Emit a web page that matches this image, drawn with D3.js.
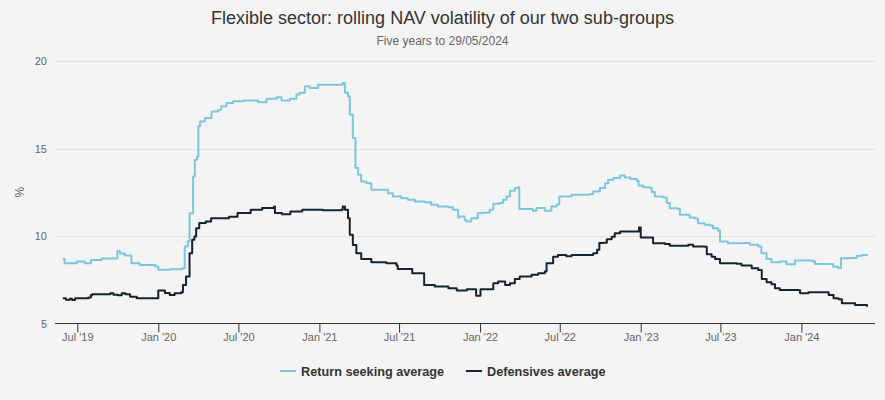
<!DOCTYPE html>
<html>
<head>
<meta charset="utf-8">
<script src="https://cdn.jsdelivr.net/npm/d3@7"></script>
<style>
  html, body { margin: 0; padding: 0; background: #f4f4f4; }
  svg { display: block; font-family: Arial, "Liberation Sans", Helvetica, sans-serif; }
</style>
</head>
<body>
<div id="chart"></div>
<script>
// ---------- DATA ----------
const chartTitle = "Flexible sector: rolling NAV volatility of our two sub-groups";
const chartSubtitle = "Five years to 29/05/2024";
const yAxisTitle = "%";
const yTicks = [5, 10, 15, 20];
const xTickDates = ["2019-07-01","2020-01-01","2020-07-01","2021-01-01","2021-07-01","2022-01-01","2022-07-01","2023-01-01","2023-07-01","2024-01-01"];
const seriesNames = ["Return seeking average", "Defensives average"];

const returnSeekingDates = [
 "2019-05-29","2019-06-02","2019-06-30","2019-07-18","2019-08-01","2019-08-25","2019-09-30","2019-10-06","2019-10-17","2019-11-01",
 "2019-11-20","2019-12-25","2020-01-01","2020-01-28","2020-02-25","2020-03-01","2020-03-08","2020-03-12","2020-03-20","2020-03-24",
 "2020-03-29","2020-04-01","2020-04-05","2020-04-16","2020-05-01","2020-05-16","2020-05-23","2020-06-04","2020-06-19","2020-07-12",
 "2020-08-10","2020-08-15","2020-09-03","2020-09-26","2020-10-07","2020-10-26","2020-11-10","2020-11-17","2020-11-29","2020-12-10",
 "2020-12-29","2021-02-20","2021-02-23","2021-02-28","2021-03-07","2021-03-11","2021-03-18","2021-03-24","2021-03-30","2021-04-06",
 "2021-04-18","2021-04-29","2021-05-18","2021-06-06","2021-06-17","2021-07-06","2021-07-21","2021-08-06","2021-08-28","2021-09-12",
 "2021-09-27","2021-10-20","2021-10-31","2021-11-12","2021-11-16","2021-11-27","2021-12-01","2021-12-12","2021-12-27","2022-01-12",
 "2022-01-23","2022-01-31","2022-02-15","2022-02-22","2022-03-02","2022-03-10","2022-03-21","2022-03-29","2022-03-31","2022-04-28",
 "2022-05-01","2022-05-09","2022-05-24","2022-05-28","2022-06-12","2022-06-24","2022-06-30","2022-07-28","2022-09-08","2022-09-15",
 "2022-09-30","2022-10-12","2022-10-19","2022-10-31","2022-11-15","2022-11-26","2022-12-08","2022-12-23","2022-12-27","2023-01-07",
 "2023-01-22","2023-01-26","2023-02-02","2023-02-21","2023-03-01","2023-03-08","2023-03-27","2023-03-31","2023-04-22","2023-05-04",
 "2023-05-11","2023-05-26","2023-06-07","2023-06-14","2023-06-26","2023-06-30","2023-07-18","2023-08-26","2023-09-06","2023-09-25",
 "2023-10-02","2023-10-14","2023-10-25","2023-11-13","2023-11-28","2023-12-17","2024-01-28","2024-02-01","2024-03-06","2024-03-13",
 "2024-03-25","2024-03-31","2024-04-20","2024-05-06","2024-05-17","2024-05-29"
];
const returnSeekingValues = [
 8.69,8.45,8.55,8.45,8.63,8.72,9.15,9.0,8.88,8.45,
 8.35,8.26,8.07,8.1,8.16,9.4,9.7,11.3,13.4,14.36,
 14.55,16.27,16.55,16.75,17.12,17.2,17.41,17.6,17.7,17.75,
 17.75,17.64,17.85,17.93,17.75,17.85,18.08,18.18,18.56,18.46,
 18.65,18.65,18.75,18.18,17.99,16.93,15.6,13.88,13.5,13.12,
 13.02,12.64,12.64,12.45,12.26,12.16,12.07,11.97,11.93,11.78,
 11.69,11.64,11.5,11.06,11.11,10.92,10.83,11.02,11.31,11.35,
 11.5,11.84,11.88,12.07,12.26,12.58,12.74,12.8,11.55,11.55,
 11.45,11.6,11.6,11.44,11.69,11.8,12.26,12.36,12.4,12.54,
 12.74,13.02,13.21,13.31,13.46,13.35,13.26,13.16,12.89,12.78,
 12.74,12.51,12.26,12.2,11.88,11.59,11.55,11.21,11.06,11.0,
 10.73,10.64,10.6,10.45,10.3,9.68,9.59,9.6,9.5,9.4,
 9.02,8.69,8.5,8.55,8.39,8.6,8.55,8.4,8.4,8.25,
 8.16,8.73,8.75,8.86,8.92,8.96
];

const defensivesDates = [
 "2019-05-29","2019-06-05","2019-06-14","2019-06-19","2019-06-26","2019-07-26","2019-08-01","2019-08-04","2019-09-14","2019-09-21",
 "2019-10-01","2019-10-10","2019-10-18","2019-10-29","2019-11-13","2019-12-28","2020-01-01","2020-01-16","2020-01-27","2020-02-07",
 "2020-02-22","2020-02-26","2020-03-04","2020-03-12","2020-03-18","2020-03-23","2020-03-27","2020-04-03","2020-04-18","2020-04-30",
 "2020-06-10","2020-06-29","2020-07-29","2020-08-24","2020-09-20","2020-09-22","2020-10-08","2020-10-27","2020-11-23","2021-01-09",
 "2021-02-20","2021-02-23","2021-02-28","2021-03-07","2021-03-11","2021-03-18","2021-03-26","2021-04-06","2021-04-29","2021-06-02",
 "2021-06-25","2021-06-28","2021-07-29","2021-07-31","2021-08-25","2021-08-27","2021-09-20","2021-10-21","2021-11-09","2021-12-02",
 "2021-12-20","2021-12-23","2021-12-29","2022-01-02","2022-01-27","2022-01-31","2022-02-11","2022-02-22","2022-02-27","2022-03-10",
 "2022-03-21","2022-04-01","2022-04-28","2022-05-13","2022-05-28","2022-06-01","2022-06-16","2022-06-27","2022-07-16","2022-07-28",
 "2022-09-15","2022-09-24","2022-09-29","2022-10-08","2022-10-16","2022-10-27","2022-11-03","2022-11-15","2022-12-26","2022-12-28",
 "2023-01-01","2023-01-26","2023-01-29","2023-02-25","2023-03-08","2023-04-19","2023-04-30","2023-05-27","2023-05-31","2023-06-11",
 "2023-06-19","2023-06-30","2023-08-07","2023-08-18","2023-09-10","2023-09-25","2023-10-03","2023-10-14","2023-10-25","2023-11-02",
 "2023-11-13","2023-12-25","2023-12-29","2024-01-17","2024-02-28","2024-03-03","2024-03-14","2024-03-25","2024-04-02","2024-05-02",
 "2024-05-29"
];
const defensivesValues = [
 6.44,6.36,6.42,6.34,6.44,6.48,6.63,6.67,6.73,6.64,
 6.62,6.73,6.67,6.53,6.44,6.44,6.88,6.75,6.63,6.73,
 6.78,7.2,7.68,9.02,9.78,9.97,10.45,10.74,10.83,11.02,
 11.1,11.31,11.5,11.6,11.69,11.31,11.25,11.4,11.5,11.47,
 11.5,11.69,11.5,11.02,10.07,9.49,9.02,8.69,8.5,8.45,
 8.31,8.12,8.12,7.87,7.87,7.2,7.11,7.01,6.88,6.96,
 6.96,6.59,6.59,6.96,6.96,7.3,7.4,7.4,7.2,7.3,
 7.55,7.68,7.78,7.87,7.97,8.45,8.82,8.92,8.85,8.92,
 9.02,9.21,9.6,9.62,9.82,9.96,10.16,10.26,10.26,10.48,
 9.91,9.91,9.59,9.55,9.45,9.5,9.4,9.38,8.96,8.82,
 8.69,8.45,8.42,8.31,8.16,8.06,7.55,7.36,7.24,7.01,
 6.92,6.9,6.73,6.78,6.78,6.63,6.44,6.38,6.16,6.06,
 5.96
];

const seriesColors = ["#7dc7dc", "#15232f"];

// ---------- CHART ----------
const W = 885, H = 400;
const plot = { left: 55, right: 875, top: 61, bottom: 323.5 };
const parse = d3.utcParse("%Y-%m-%d");

const svg = d3.select("#chart").append("svg").attr("width", W).attr("height", H);
svg.append("rect").attr("width", W).attr("height", H).attr("fill", "#f4f4f4");

const x = d3.scaleUtc()
  .domain([parse("2019-07-01"), parse("2024-01-01")])
  .range([77.3, 801.4]);
const y = d3.scaleLinear().domain([5, 20]).range([plot.bottom, plot.top]);

// title
svg.append("text").attr("x", W / 2).attr("y", 24).attr("text-anchor", "middle")
  .attr("font-size", 18).attr("fill", "#333").text(chartTitle);
svg.append("text").attr("x", W / 2).attr("y", 45).attr("text-anchor", "middle")
  .attr("font-size", 12).attr("fill", "#666").text(chartSubtitle);

// grid
svg.append("g").selectAll("line").data(yTicks.filter(t => t !== 5)).join("line")
  .attr("x1", plot.left).attr("x2", plot.right)
  .attr("y1", d => Math.round(y(d)) + 0.5).attr("y2", d => Math.round(y(d)) + 0.5)
  .attr("stroke", "#e2e2e2").attr("stroke-width", 1);

// y labels
svg.append("g").selectAll("text").data(yTicks).join("text")
  .attr("x", 47).attr("y", d => y(d) + 4).attr("text-anchor", "end")
  .attr("font-size", 11).attr("fill", "#666").text(d => d);

svg.append("text").attr("transform", `translate(24, ${(plot.top + plot.bottom) / 2}) rotate(-90)`)
  .attr("text-anchor", "middle").attr("font-size", 12).attr("fill", "#666").text(yAxisTitle);

// x axis
const fmt = d => d3.utcFormat("%b")(d) + " '" + d3.utcFormat("%y")(d);
const xAxis = d3.axisBottom(x).tickValues(xTickDates.map(parse)).tickFormat(fmt)
  .tickSize(9).tickSizeOuter(0);
const gx = svg.append("g").attr("transform", `translate(0, ${Math.round(plot.bottom) - 0.5})`).call(xAxis);
gx.select(".domain").remove();
gx.append("line").attr("x1", plot.left).attr("x2", plot.right).attr("y1", 0).attr("y2", 0)
  .attr("stroke", "#333").attr("stroke-width", 1);
gx.selectAll(".tick line").attr("stroke", "#333");
gx.selectAll(".tick text").attr("font-size", 11).attr("fill", "#666")
  .attr("font-family", "Arial, 'Liberation Sans', sans-serif").attr("dy", "0.3em").attr("y", 14);

// lines
const series = [
  { name: seriesNames[0], color: seriesColors[0], data: returnSeekingDates.map((d, i) => ({ d: parse(d), v: returnSeekingValues[i] })) },
  { name: seriesNames[1], color: seriesColors[1], data: defensivesDates.map((d, i) => ({ d: parse(d), v: defensivesValues[i] })) }
];
const line = d3.line().x(p => x(p.d)).y(p => y(p.v)).curve(d3.curveStepAfter);
svg.append("g").selectAll("path").data(series).join("path")
  .attr("d", s => line(s.data)).attr("fill", "none")
  .attr("stroke", s => s.color).attr("stroke-width", 2).attr("stroke-linejoin", "round");

// legend
const legendX = [280, 466];
const lg = svg.append("g").selectAll("g").data(series).join("g")
  .attr("transform", (s, i) => `translate(${legendX[i]}, 371)`);
lg.append("line").attr("x1", 0).attr("x2", 16).attr("y1", 0).attr("y2", 0)
  .attr("stroke", s => s.color).attr("stroke-width", 2);
lg.append("text").attr("x", 21).attr("y", 4.6).attr("font-size", 12.7).attr("font-weight", "bold")
  .attr("fill", "#333").text(s => s.name);
</script>
</body>
</html>
